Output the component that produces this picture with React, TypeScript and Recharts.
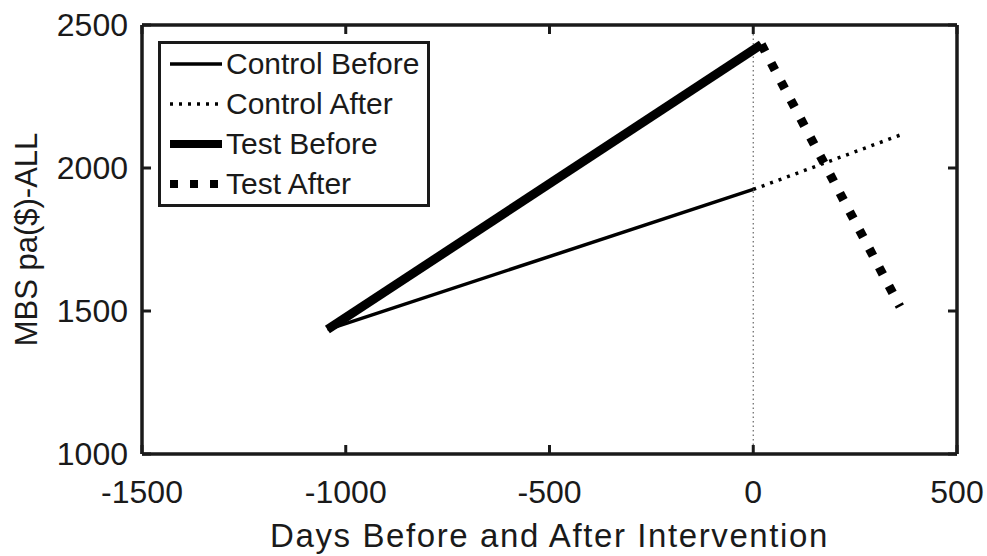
import { LineChart, Line, XAxis, YAxis, ReferenceLine, Legend } from 'recharts'

const xTicks = [-1500, -1000, -500, 0, 500]
const yTicks = [1000, 1500, 2000, 2500]

const controlBefore = [
  { x: -1045, y: 1435 },
  { x: 0, y: 1925 },
]
const controlAfter = [
  { x: 0, y: 1925 },
  { x: 360, y: 2115 },
]
const testBefore = [
  { x: -1045, y: 1435 },
  { x: 20, y: 2432 },
]
const testAfter = [
  { x: 20, y: 2432 },
  { x: 360, y: 1515 },
]

const seriesNames = ['Control Before', 'Control After', 'Test Before', 'Test After']

const ink = '#1a1a1a'
const font = '"Liberation Sans", Arial, sans-serif'
const axisStroke = { stroke: ink, strokeWidth: 3.5 }
const tickStroke = { stroke: ink, strokeWidth: 3 }

// line samples for the legend, same order as seriesNames
const samples = [
  { width: 3.5, dash: undefined },
  { width: 3.5, dash: '3 6' },
  { width: 8, dash: undefined },
  { width: 8, dash: '8 12' },
]

function LegendBox() {
  return (
    <div
      style={{
        width: 266,
        border: `3px solid ${ink}`,
        background: '#fff',
        fontFamily: font,
        fontSize: 30,
        color: ink,
      }}
    >
      {seriesNames.map((name, i) => (
        <div key={name} style={{ display: 'flex', alignItems: 'center', height: 40 }}>
          <svg width={52} height={12} style={{ marginLeft: 9, marginRight: 4 }}>
            <line
              x1={0}
              y1={6}
              x2={52}
              y2={6}
              stroke="#000"
              strokeWidth={samples[i].width}
              strokeDasharray={samples[i].dash}
            />
          </svg>
          <span style={{ lineHeight: '40px', whiteSpace: 'nowrap' }}>{name}</span>
        </div>
      ))}
    </div>
  )
}

const noLabel = () => ''

export default function App() {
  const tickStyle = { fontSize: 32, fill: ink, fontFamily: font }

  return (
    <div style={{ position: 'absolute', left: 0, top: 0, width: 987, height: 556, background: '#fff', fontFamily: font }}>
      <LineChart width={987} height={556} margin={{ top: 24, right: 29, bottom: 0, left: 0 }}>
        <XAxis
          dataKey="x"
          type="number"
          domain={[-1500, 500]}
          ticks={xTicks}
          interval={0}
          height={102}
          tick={tickStyle}
          tickSize={-9}
          tickMargin={35}
          axisLine={axisStroke}
          tickLine={tickStroke}
          label={{
            content: (props: any) => {
              const vb = props.viewBox
              return (
                <text
                  x={vb.x + vb.width / 2}
                  y={vb.y + 93}
                  textAnchor="middle"
                  fontSize={33}
                  letterSpacing={1.6}
                  fill={ink}
                  fontFamily={font}
                >
                  Days Before and After Intervention
                </text>
              )
            },
          }}
        />
        {/* mirrored box axes, same scales, ticks pointing in */}
        <XAxis
          xAxisId="top"
          orientation="top"
          dataKey="x"
          type="number"
          domain={[-1500, 500]}
          ticks={xTicks}
          interval={0}
          height={1}
          tickFormatter={noLabel}
          tickSize={-9}
          tickMargin={0}
          axisLine={axisStroke}
          tickLine={tickStroke}
        />
        <YAxis
          type="number"
          domain={[1000, 2500]}
          ticks={yTicks}
          interval={0}
          width={142}
          tick={tickStyle}
          tickSize={-9}
          tickMargin={23}
          axisLine={axisStroke}
          tickLine={tickStroke}
          label={{
            content: (props: any) => {
              const vb = props.viewBox
              const cx = vb.x + 26
              const cy = vb.y + vb.height / 2
              return (
                <text
                  x={cx}
                  y={cy}
                  transform={`rotate(-90 ${cx} ${cy})`}
                  textAnchor="middle"
                  dominantBaseline="central"
                  fontSize={31}
                  fill={ink}
                  fontFamily={font}
                >
                  MBS pa($)-ALL
                </text>
              )
            },
          }}
        />
        <YAxis
          yAxisId="right"
          orientation="right"
          type="number"
          domain={[1000, 2500]}
          ticks={yTicks}
          interval={0}
          width={1}
          tickFormatter={noLabel}
          tickSize={-9}
          tickMargin={0}
          axisLine={axisStroke}
          tickLine={tickStroke}
        />
        <ReferenceLine x={0} stroke="#666" strokeWidth={1.2} strokeDasharray="1.5 3" />
        <Line data={controlBefore} dataKey="y" stroke="#000" strokeWidth={3.5} dot={false} activeDot={false} isAnimationActive={false} />
        <Line data={controlAfter} dataKey="y" stroke="#000" strokeWidth={3.5} strokeDasharray="3 6" dot={false} activeDot={false} isAnimationActive={false} />
        <Line data={testBefore} dataKey="y" stroke="#000" strokeWidth={9} dot={false} activeDot={false} isAnimationActive={false} />
        <Line
          data={testAfter}
          dataKey="y"
          xAxisId="top"
          yAxisId="right"
          stroke="#000"
          strokeWidth={9}
          strokeDasharray="8 13"
          dot={false}
          activeDot={false}
          isAnimationActive={false}
        />
        <Legend
          layout="vertical"
          align="center"
          verticalAlign="middle"
          content={() => <LegendBox />}
          wrapperStyle={{ left: 158, top: 41, width: 272, height: 166 }}
        />
      </LineChart>
    </div>
  )
}
